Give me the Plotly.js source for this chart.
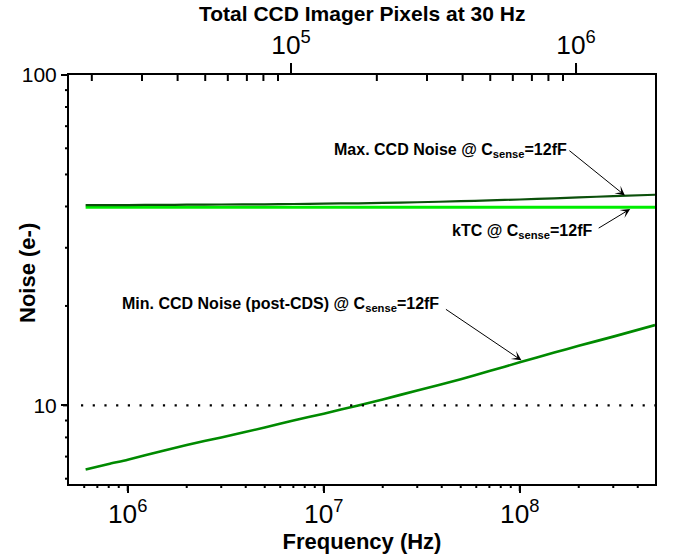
<!DOCTYPE html>
<html>
<head>
<meta charset="utf-8">
<script src="https://cdn.plot.ly/plotly-3.0.1.min.js"></script>
<style>html,body{margin:0;padding:0;background:#fff;}#chart{width:674px;height:555px;}</style>
</head>
<body>
<div id="chart"></div>
<script>
// ---- data ----
const freqHz   = [6.1e5, 8e5, 1e6, 1.5e6, 2e6, 3e6, 5e6, 7e6, 1e7, 1.5e7, 2e7, 3e7, 5e7, 7e7, 1e8, 1.5e8, 2e8, 3e8, 4.9e8];
const maxNoise = [40.4, 40.4, 40.4, 40.45, 40.5, 40.55, 40.6, 40.7, 40.8, 40.9, 41.0, 41.2, 41.5, 41.75, 42.0, 42.35, 42.6, 43.0, 43.4];
const ktcNoise = [39.8, 39.8, 39.8, 39.8, 39.8, 39.8, 39.8, 39.8, 39.8, 39.8, 39.8, 39.8, 39.8, 39.8, 39.8, 39.8, 39.8, 39.8, 39.8];
const minNoise = [6.40, 6.65, 6.85, 7.28, 7.59, 8.0, 8.57, 9.0, 9.44, 10.0, 10.42, 11.1, 12.0, 12.7, 13.5, 14.45, 15.15, 16.15, 17.5];
const refLevel = 10;

// tick values
const xMajorTicks  = [1e6, 1e7, 1e8];
const xMinorTicks  = [6e5, 7e5, 8e5, 9e5, 2e6, 3e6, 4e6, 5e6, 6e6, 7e6, 8e6, 9e6,
                      2e7, 3e7, 4e7, 5e7, 6e7, 7e7, 8e7, 9e7, 2e8, 3e8, 4e8];
const pixelTicks   = [1e5, 1e6];
const x2MinorTicks = [2e4, 3e4, 4e4, 5e4, 6e4, 7e4, 8e4, 9e4, 2e5, 3e5, 4e5, 5e5, 6e5, 7e5, 8e5, 9e5];
const yMajorTicks  = [10, 100];
const yMinorTicks  = [6, 7, 8, 9, 20, 30, 40, 50, 60, 70, 80, 90];

const seriesNames = ['kTC @ C<sub>sense</sub>=12fF', 'Max. CCD Noise @ C<sub>sense</sub>=12fF', 'Min. CCD Noise (post-CDS) @ C<sub>sense</sub>=12fF'];

// arrow targets: [frequency, noise]
const maxArrowTip = [3.44e8, 43.2];
const ktcArrowTip = [3.66e8, 39.3];
const minArrowTip = [1.02e8, 13.69];

// ---- layout geometry ----
const W = 674, H = 555;
const L = 69, R = 655, T = 75, B = 484;
const PW = R - L, PH = B - T;
const px = x => (x - L) / PW;
const py = y => (B - y) / PH;
const FONT = 'Liberation Sans, Arial, Helvetica, sans-serif';
const X_RANGE = [5.7005, 8.690], X2_RANGE = [4.221, 6.277], Y_RANGE = [0.7621, 2.0];
const yToPaper = v => (Math.log10(v) - Y_RANGE[0]) / (Y_RANGE[1] - Y_RANGE[0]);

const traces = [
  {x: freqHz, y: ktcNoise, mode: 'lines', name: seriesNames[0],
   line: {color: '#00ee00', width: 3, shape: 'spline', smoothing: 0.6}},
  {x: freqHz, y: maxNoise, mode: 'lines', name: seriesNames[1],
   line: {color: '#0b500b', width: 2.2, shape: 'spline', smoothing: 0.6}},
  {x: freqHz, y: minNoise, mode: 'lines', name: seriesNames[2],
   line: {color: '#008a00', width: 2.6, shape: 'spline', smoothing: 0.6}},
  {x: pixelTicks, y: [null, null], xaxis: 'x2', yaxis: 'y', mode: 'lines', showlegend: false}
];

// tick marks (drawn as shapes so that they always show)
const tickLine = {color: '#000', width: 2};
const xTick = (ref, v, len) => ({type: 'line', xref: ref, yref: 'paper', x0: v, x1: v,
  y0: ref === 'x' ? 0 : 1, y1: ref === 'x' ? -len / PH : 1 + len / PH, line: tickLine, layer: 'above'});
const yTick = (v, len) => ({type: 'line', xref: 'paper', yref: 'paper', x0: 0, x1: -len / PW,
  y0: yToPaper(v), y1: yToPaper(v), line: tickLine, layer: 'above'});
const tickShapes = [].concat(
  xMajorTicks.map(v => xTick('x', v, 7)),
  xMinorTicks.map(v => xTick('x', v, 4)),
  pixelTicks.map(v => xTick('x2', v, 10)),
  x2MinorTicks.map(v => xTick('x2', v, -6)),
  yMajorTicks.map(v => yTick(v, 6)),
  yMinorTicks.map(v => yTick(v, 4))
);

const arrowCommon = {text: '', showarrow: true, arrowhead: 3, arrowsize: 1.6,
  arrowwidth: 1, arrowcolor: '#000', axref: 'pixel', ayref: 'pixel', xref: 'x', yref: 'y', standoff: 0};

const tickFont = {family: FONT, size: 21, color: '#000'};

const layout = {
  width: W, height: H,
  margin: {l: L, r: W - R, t: T, b: H - B},
  showlegend: false,
  font: {family: FONT, color: '#000'},
  xaxis: {
    type: 'log', range: X_RANGE, dtick: 1, exponentformat: 'power',
    showgrid: false, zeroline: false,
    showline: true, linewidth: 2, linecolor: '#000',
    ticks: 'outside', ticklen: 7, tickwidth: 2, tickcolor: '#000',
    tickfont: tickFont,
    title: {text: 'Frequency (Hz)', font: {family: FONT, size: 22, weight: 'bold', color: '#000'}, standoff: 3}
  },
  xaxis2: {
    type: 'log', range: X2_RANGE, dtick: 1, exponentformat: 'power',
    overlaying: 'x', side: 'top', anchor: 'y',
    showgrid: false, zeroline: false,
    showline: true, linewidth: 2, linecolor: '#000',
    ticks: 'outside', ticklen: 10, tickwidth: 2, tickcolor: '#000',
    tickfont: tickFont
  },
  yaxis: {
    type: 'log', range: Y_RANGE, dtick: 1,
    showgrid: false, zeroline: false,
    showline: true, linewidth: 2, linecolor: '#000', mirror: true,
    ticks: 'outside', ticklen: 6, tickwidth: 2, tickcolor: '#000',
    tickfont: tickFont
  },
  shapes: [
    {type: 'line', xref: 'paper', yref: 'y', x0: px(81), x1: 1, y0: refLevel, y1: refLevel,
     line: {color: '#000', width: 2.2, dash: '2.2px,9.5px'}}
  ].concat(tickShapes),
  annotations: [
    {text: '<b>Total CCD Imager Pixels at 30 Hz</b>', xref: 'paper', yref: 'paper', x: 0.5, y: py(14),
     xanchor: 'center', yanchor: 'middle', showarrow: false, font: {family: FONT, size: 21, color: '#000'}},
    {text: '<b>Noise (e-)</b>', xref: 'paper', yref: 'paper', x: px(27), y: py(273),
     xanchor: 'center', yanchor: 'middle', textangle: -90, showarrow: false,
     font: {family: FONT, size: 22, color: '#000'}},
    {text: '<b>' + seriesNames[1] + '</b>', xref: 'paper', yref: 'paper', x: px(569), y: py(150),
     xanchor: 'right', yanchor: 'middle', showarrow: false, font: {family: FONT, size: 16, color: '#000'}},
    {text: '<b>' + seriesNames[0] + '</b>', xref: 'paper', yref: 'paper', x: px(594), y: py(231),
     xanchor: 'right', yanchor: 'middle', showarrow: false, font: {family: FONT, size: 16, color: '#000'}},
    {text: '<b>' + seriesNames[2] + '</b>', xref: 'paper', yref: 'paper', x: px(441), y: py(304),
     xanchor: 'right', yanchor: 'middle', showarrow: false, font: {family: FONT, size: 16, color: '#000'}},
    Object.assign({}, arrowCommon, {x: Math.log10(maxArrowTip[0]), y: Math.log10(maxArrowTip[1]), ax: -57, ay: -46}),
    Object.assign({}, arrowCommon, {x: Math.log10(ktcArrowTip[0]), y: Math.log10(ktcArrowTip[1]), ax: -33, ay: 20}),
    Object.assign({}, arrowCommon, {x: Math.log10(minArrowTip[0]), y: Math.log10(minArrowTip[1]), ax: -77, ay: -52})
  ]
};

Plotly.newPlot('chart', traces, layout, {staticPlot: true, displayModeBar: false});
</script>
</body>
</html>
